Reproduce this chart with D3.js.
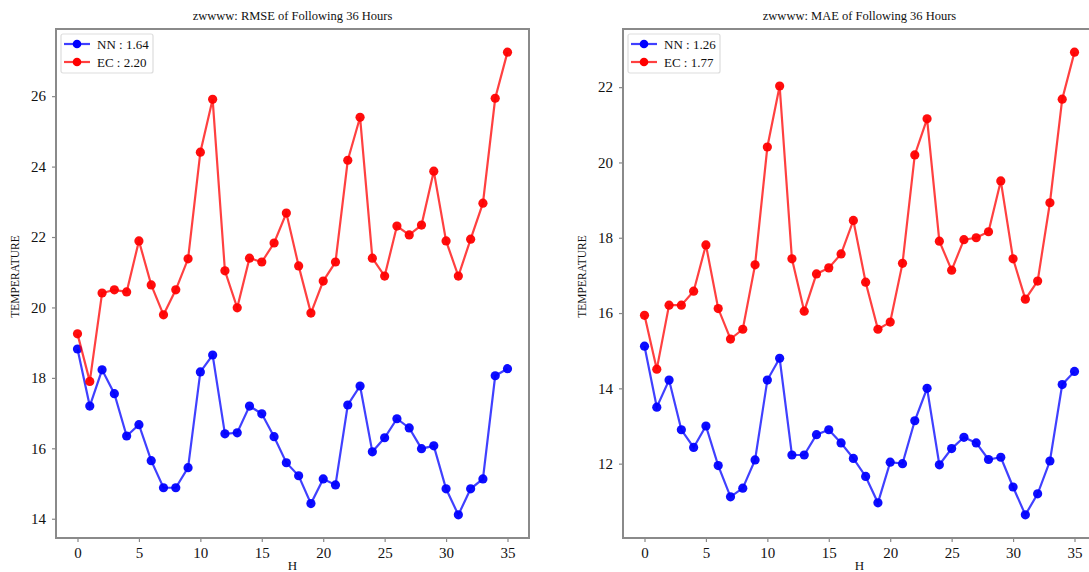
<!DOCTYPE html>
<html lang="en">
<head>
<meta charset="utf-8">
<script src="https://d3js.org/d3.v7.min.js"></script>
<style>
  body { margin: 0; background: #fff; }
  svg text { font-family: "Liberation Serif", "Times New Roman", serif; fill: #111; }
</style>
</head>
<body>
<svg id="chart" width="1089" height="572"></svg>
<script>
// hours ahead
var hours = d3.range(0, 36);
var xTicks = [0, 5, 10, 15, 20, 25, 30, 35];

// RMSE panel
var rmseNN = [18.82, 17.2, 18.23, 17.55, 16.35, 16.67, 15.65, 14.88, 14.88, 15.45,
              18.17, 18.65, 16.41, 16.44, 17.2, 16.98, 16.33, 15.59, 15.22, 14.43,
              15.13, 14.96, 17.23, 17.77, 15.9, 16.3, 16.84, 16.58, 15.99, 16.07,
              14.85, 14.11, 14.85, 15.13, 18.06, 18.26];
var rmseEC = [19.25, 17.9, 20.41, 20.5, 20.44, 21.89, 20.64, 19.79, 20.5, 21.38,
              24.41, 25.91, 21.04, 19.99, 21.4, 21.29, 21.83, 22.68, 21.18, 19.84,
              20.75, 21.29, 24.18, 25.4, 21.4, 20.89, 22.31, 22.06, 22.34, 23.87,
              21.89, 20.89, 21.94, 22.96, 25.94, 27.25];
var rmseTicks = [14, 16, 18, 20, 22, 24, 26];

// MAE panel
var maeNN = [15.12, 13.5, 14.22, 12.9, 12.43, 13.0, 11.95, 11.12, 11.35, 12.1,
             14.22, 14.8, 12.23, 12.23, 12.77, 12.9, 12.55, 12.14, 11.66, 10.96,
             12.04, 12.0, 13.14, 14.0, 11.97, 12.4, 12.7, 12.55, 12.11, 12.17,
             11.38, 10.64, 11.2, 12.07, 14.1, 14.45];
var maeEC = [15.94, 14.51, 16.21, 16.21, 16.58, 17.81, 16.12, 15.31, 15.57, 17.28,
             20.41, 22.03, 17.44, 16.05, 17.04, 17.2, 17.57, 18.46, 16.82, 15.57,
             15.76, 17.32, 20.2, 21.16, 17.91, 17.14, 17.95, 18.0, 18.16, 19.51,
             17.44, 16.37, 16.85, 18.93, 21.68, 22.93];
var maeTicks = [12, 14, 16, 18, 20, 22];

var svg = d3.select("#chart");

function drawPanel(p) {
    var g = svg.append("g").attr("transform", "translate(" + p.left + "," + p.top + ")");
    var w = 473, h = 509;

    var x = d3.scaleLinear().domain([-1.75, 36.75]).range([0, w]);
    var lo = d3.min(p.nn.concat(p.ec)), hi = d3.max(p.nn.concat(p.ec));
    var pad = (hi - lo) * 0.05;
    var y = d3.scaleLinear().domain([lo - pad, hi + pad]).range([h, 0]);

    // title
    g.append("text")
        .attr("x", w / 2).attr("y", -9)
        .attr("text-anchor", "middle")
        .style("font-size", "12.5px")
        .text(p.title);

    // axes
    var xa = g.append("g").attr("transform", "translate(0," + h + ")")
        .call(d3.axisBottom(x).tickValues(xTicks).tickSize(4).tickPadding(5).tickSizeOuter(0));
    var ya = g.append("g")
        .call(d3.axisLeft(y).tickValues(p.yTicks).tickSize(4).tickPadding(6).tickSizeOuter(0));
    [xa, ya].forEach(function(a) {
        a.select(".domain").remove();
        a.selectAll("line").attr("stroke", "#888").attr("stroke-width", 1.2);
        a.selectAll("text").style("font-size", "15px")
            .style("font-family", "'Liberation Serif', serif").attr("fill", "#111");
    });

    // frame
    g.append("rect")
        .attr("x", 0).attr("y", 0).attr("width", w).attr("height", h)
        .attr("fill", "none").attr("stroke", "#8a8a8a").attr("stroke-width", 2);

    // axis labels
    g.append("text")
        .attr("x", w / 2).attr("y", h + 32)
        .attr("text-anchor", "middle")
        .style("font-size", "13px")
        .text("H");
    g.append("text")
        .attr("transform", "translate(" + (-37) + "," + (h / 2 - 7) + ") rotate(-90)")
        .attr("text-anchor", "middle")
        .style("font-size", "11.5px")
        .text("TEMPERATURE");

    var line = d3.line()
        .x(function(d, i) { return x(hours[i]); })
        .y(function(d) { return y(d); });

    var series = [
        { vals: p.nn, color: "#0000ff", name: "NN : " + p.nnScore },
        { vals: p.ec, color: "#ff0000", name: "EC : " + p.ecScore }
    ];

    series.forEach(function(s) {
        g.append("path")
            .datum(s.vals)
            .attr("d", line)
            .attr("fill", "none")
            .attr("stroke", s.color)
            .attr("stroke-opacity", 0.75)
            .attr("stroke-width", 2.2);
        g.selectAll(null)
            .data(s.vals)
            .enter()
            .append("circle")
            .attr("cx", function(d, i) { return x(hours[i]); })
            .attr("cy", function(d) { return y(d); })
            .attr("r", 4.6)
            .attr("fill", s.color)
            .attr("fill-opacity", 0.95);
    });

    // legend
    var lg = g.append("g").attr("transform", "translate(5,5)");
    lg.append("rect")
        .attr("width", 92).attr("height", 39).attr("rx", 2)
        .attr("fill", "#fff").attr("stroke", "#ddd").attr("stroke-width", 1.2);
    series.forEach(function(s, i) {
        var yy = 10 + i * 18;
        lg.append("line")
            .attr("x1", 3).attr("x2", 29).attr("y1", yy).attr("y2", yy)
            .attr("stroke", s.color).attr("stroke-opacity", 0.75).attr("stroke-width", 2.2);
        lg.append("circle").attr("cx", 16).attr("cy", yy).attr("r", 4.3).attr("fill", s.color);
        lg.append("text")
            .attr("x", 36).attr("y", yy + 4.5)
            .style("font-size", "13px")
            .text(s.name);
    });
}

drawPanel({ left: 56, top: 29, title: "zwwww: RMSE of Following 36 Hours",
            nn: rmseNN, ec: rmseEC, yTicks: rmseTicks, nnScore: "1.64", ecScore: "2.20" });
drawPanel({ left: 623, top: 29, title: "zwwww: MAE of Following 36 Hours",
            nn: maeNN, ec: maeEC, yTicks: maeTicks, nnScore: "1.26", ecScore: "1.77" });
</script>
</body>
</html>
